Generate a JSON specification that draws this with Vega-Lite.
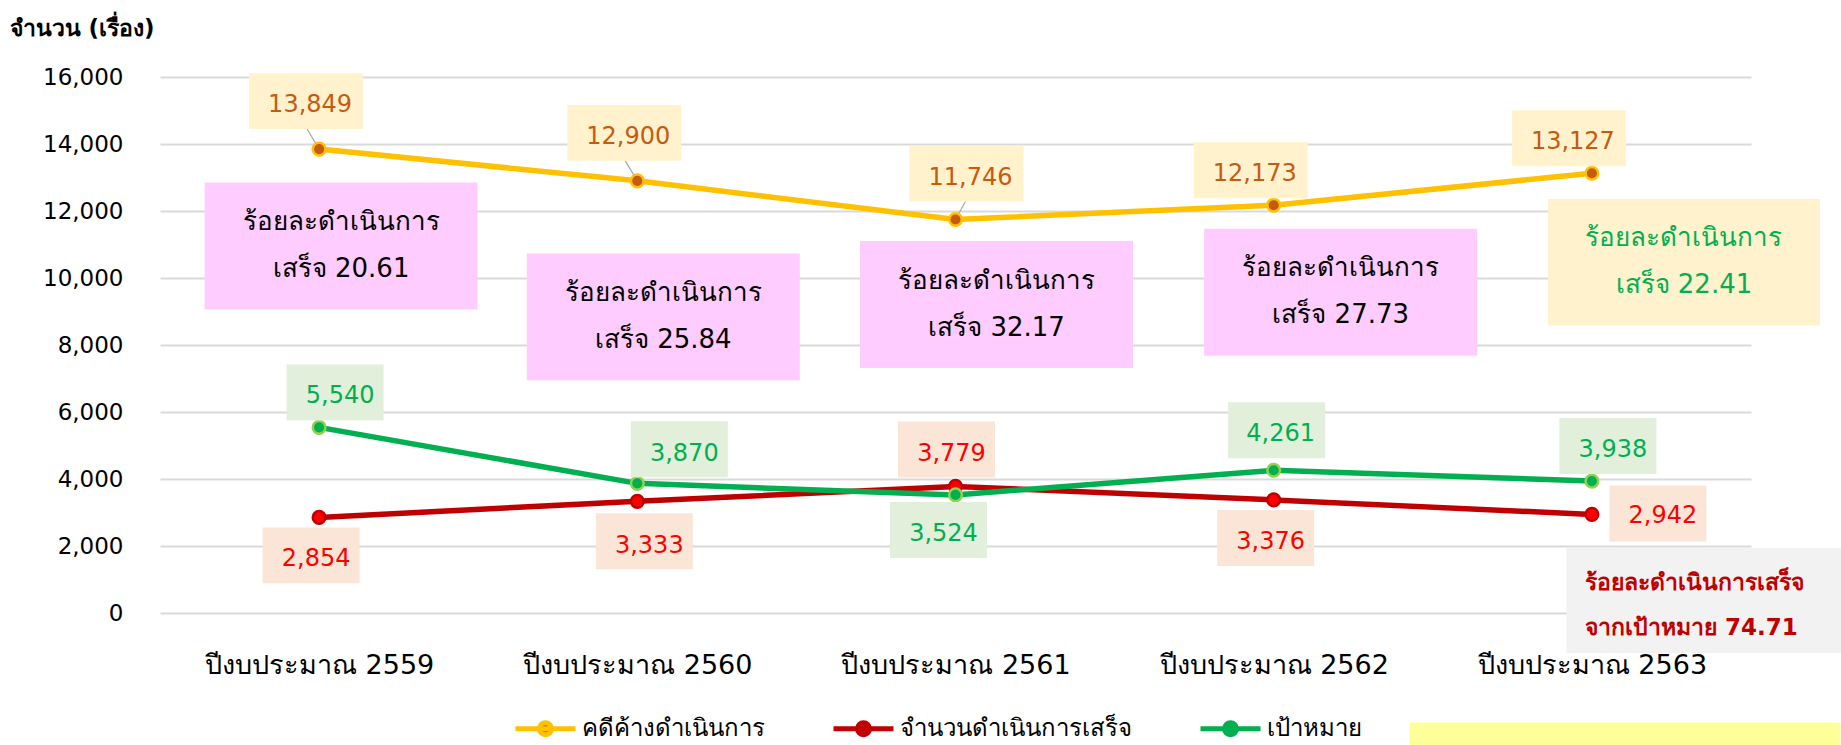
{
  "$schema": "https://vega.github.io/schema/vega-lite/v6.json",
  "width": 1591,
  "height": 536,
  "autosize": {"type": "none"},
  "padding": {"left": 160, "top": 77, "right": 90, "bottom": 132},
  "background": "#FFFFFF",
  "config": {"view": {"stroke": null}, "font": "DejaVu Sans"},
  "datasets": {
    "cases": [
      {"year": "ปีงบประมาณ 2559", "series": "คดีค้างดำเนินการ", "value": 13849},
      {"year": "ปีงบประมาณ 2560", "series": "คดีค้างดำเนินการ", "value": 12900},
      {"year": "ปีงบประมาณ 2561", "series": "คดีค้างดำเนินการ", "value": 11746},
      {"year": "ปีงบประมาณ 2562", "series": "คดีค้างดำเนินการ", "value": 12173},
      {"year": "ปีงบประมาณ 2563", "series": "คดีค้างดำเนินการ", "value": 13127},
      {"year": "ปีงบประมาณ 2559", "series": "จำนวนดำเนินการเสร็จ", "value": 2854},
      {"year": "ปีงบประมาณ 2560", "series": "จำนวนดำเนินการเสร็จ", "value": 3333},
      {"year": "ปีงบประมาณ 2561", "series": "จำนวนดำเนินการเสร็จ", "value": 3779},
      {"year": "ปีงบประมาณ 2562", "series": "จำนวนดำเนินการเสร็จ", "value": 3376},
      {"year": "ปีงบประมาณ 2563", "series": "จำนวนดำเนินการเสร็จ", "value": 2942},
      {"year": "ปีงบประมาณ 2559", "series": "เป้าหมาย", "value": 5540},
      {"year": "ปีงบประมาณ 2560", "series": "เป้าหมาย", "value": 3870},
      {"year": "ปีงบประมาณ 2561", "series": "เป้าหมาย", "value": 3524},
      {"year": "ปีงบประมาณ 2562", "series": "เป้าหมาย", "value": 4261},
      {"year": "ปีงบประมาณ 2563", "series": "เป้าหมาย", "value": 3938}
    ],
    "notes": [
      {"year": "ปีงบประมาณ 2559", "text": "ร้อยละดำเนินการ\nเสร็จ 20.61"},
      {"year": "ปีงบประมาณ 2560", "text": "ร้อยละดำเนินการ\nเสร็จ 25.84"},
      {"year": "ปีงบประมาณ 2561", "text": "ร้อยละดำเนินการ\nเสร็จ 32.17"},
      {"year": "ปีงบประมาณ 2562", "text": "ร้อยละดำเนินการ\nเสร็จ 27.73"},
      {"year": "ปีงบประมาณ 2563", "text": "ร้อยละดำเนินการ\nเสร็จ 22.41"}
    ],
    "summary": [
      {"year": "ปีงบประมาณ 2563", "text": "ร้อยละดำเนินการเสร็จ\nจากเป้าหมาย 74.71"}
    ]
  },
  "data": {"name": "cases"},
  "encoding": {
    "x": {
      "field": "year", "type": "nominal", "sort": null,
      "scale": {"type": "point", "padding": 0.5},
      "axis": {"title": null, "labelAngle": 0, "labelFontSize": 27, "labelColor": "#000000", "labelPadding": 52, "labelBaseline": "middle", "labelLimit": 0, "domain": false, "ticks": false, "tickSize": 0, "grid": false}
    },
    "y": {
      "field": "value", "type": "quantitative",
      "scale": {"domain": [0, 16000], "nice": false, "zero": true},
      "axis": {"title": "จำนวน (เรื่อง)", "titleAngle": 0, "titleX": -151, "titleY": -49, "titleAlign": "left", "titleBaseline": "middle", "titleFontSize": 23, "titleFontWeight": "bold", "titleColor": "#000000", "labelFontSize": 23, "labelColor": "#000000", "labelPadding": 37, "domain": false, "ticks": false, "tickSize": 0, "grid": true, "gridColor": "#D9D9D9", "gridWidth": 2, "values": [0, 2000, 4000, 6000, 8000, 10000, 12000, 14000, 16000], "labelExpr": "format(datum.value, ',')"}
    }
  },
  "layer": [
    {"mark": {"type": "line", "strokeWidth": 5.5},
     "encoding": {"color": {"field": "series", "type": "nominal",
       "scale": {"domain": ["คดีค้างดำเนินการ", "จำนวนดำเนินการเสร็จ", "เป้าหมาย"], "range": ["#FFC000", "#C00000", "#00B050"]},
       "legend": {"orient": "none", "legendX": 353, "legendY": 619, "direction": "horizontal", "title": null, "labelFontSize": 24, "labelColor": "#000000", "labelLimit": 0, "symbolType": "M-1,0H1M0.2,0A0.2,0.2,0,1,1,-0.2,0A0.2,0.2,0,1,1,0.2,0Z", "symbolSize": 3600, "symbolStrokeWidth": 5, "labelOffset": 4, "columnPadding": 58,
         "encode": {"symbols": {"update": {"fill": {"scale": "fill", "field": "value"}}}}}}}},
    {"transform": [{"filter": "datum.series == 'คดีค้างดำเนินการ'"}, {"lookup": "year", "from": {"data": {"name": "notes"}, "key": "year", "fields": ["text"]}}],
     "layer": [
      {"transform": [{"filter": "test(/2559/, datum.year)"}],
       "layer": [
        {"mark": {"type": "point", "shape": "M-1,-0.465H1V0.465H-1Z", "size": 74529, "filled": true, "fill": "#FFCCFF", "opacity": 1, "strokeWidth": 0, "xOffset": 22, "yOffset": 97}},
        {"mark": {"type": "text", "fontSize": 26, "lineBreak": "\n", "lineHeight": 47, "dx": 22, "dy": 73, "color": "#000000", "baseline": "middle"}, "encoding": {"text": {"field": "text"}}}
      ]},
      {"transform": [{"filter": "test(/2560/, datum.year)"}],
       "layer": [
        {"mark": {"type": "point", "shape": "M-1,-0.465H1V0.465H-1Z", "size": 74529, "filled": true, "fill": "#FFCCFF", "opacity": 1, "strokeWidth": 0, "xOffset": 26, "yOffset": 136}},
        {"mark": {"type": "text", "fontSize": 26, "lineBreak": "\n", "lineHeight": 47, "dx": 26, "dy": 112, "color": "#000000", "baseline": "middle"}, "encoding": {"text": {"field": "text"}}}
      ]},
      {"transform": [{"filter": "test(/2561/, datum.year)"}],
       "layer": [
        {"mark": {"type": "point", "shape": "M-1,-0.465H1V0.465H-1Z", "size": 74529, "filled": true, "fill": "#FFCCFF", "opacity": 1, "strokeWidth": 0, "xOffset": 41, "yOffset": 85}},
        {"mark": {"type": "text", "fontSize": 26, "lineBreak": "\n", "lineHeight": 47, "dx": 41, "dy": 61, "color": "#000000", "baseline": "middle"}, "encoding": {"text": {"field": "text"}}}
      ]},
      {"transform": [{"filter": "test(/2562/, datum.year)"}],
       "layer": [
        {"mark": {"type": "point", "shape": "M-1,-0.465H1V0.465H-1Z", "size": 74529, "filled": true, "fill": "#FFCCFF", "opacity": 1, "strokeWidth": 0, "xOffset": 67, "yOffset": 87}},
        {"mark": {"type": "text", "fontSize": 26, "lineBreak": "\n", "lineHeight": 47, "dx": 67, "dy": 63, "color": "#000000", "baseline": "middle"}, "encoding": {"text": {"field": "text"}}}
      ]},
      {"transform": [{"filter": "test(/2563/, datum.year)"}],
       "layer": [
        {"mark": {"type": "point", "shape": "M-1,-0.465H1V0.465H-1Z", "size": 73984, "filled": true, "fill": "#FFF2CC", "opacity": 1, "strokeWidth": 0, "xOffset": 92, "yOffset": 89}},
        {"mark": {"type": "text", "fontSize": 26, "lineBreak": "\n", "lineHeight": 47, "dx": 92, "dy": 65, "color": "#00B050", "baseline": "middle"}, "encoding": {"text": {"field": "text"}}}
      ]}
    ]},
    {"transform": [{"filter": "datum.series == 'จำนวนดำเนินการเสร็จ' && test(/2563/, datum.year)"}, {"lookup": "year", "from": {"data": {"name": "summary"}, "key": "year", "fields": ["text"]}}],
     "layer": [
      {"mark": {"type": "point", "shape": "M-1,-0.382H1V0.382H-1Z", "size": 75625, "filled": true, "fill": "#F2F2F2", "opacity": 1, "strokeWidth": 0, "xOffset": 112, "yOffset": 86}},
      {"mark": {"type": "point", "shape": "M-1,-0.139H1V0.139H-1Z", "size": 185761, "filled": true, "fill": "#FFFF99", "opacity": 1, "strokeWidth": 0, "xOffset": 33, "yOffset": 238}},
      {"mark": {"type": "text", "fontSize": 23, "fontWeight": "bold", "lineBreak": "\n", "lineHeight": 45, "dx": -7, "dy": 69, "align": "left", "color": "#C00000", "baseline": "middle"}, "encoding": {"text": {"field": "text"}}}
    ]},
    {"transform": [{"filter": "datum.series == 'คดีค้างดำเนินการ' && test(/2559|2560/, datum.year)"}],
     "mark": {"type": "rule", "color": "#A6A6A6", "strokeWidth": 1.2, "x2Offset": -12, "y2Offset": -20},
     "encoding": {"x2": {"field": "year"}, "y2": {"field": "value"}}},
    {"transform": [{"filter": "datum.series == 'คดีค้างดำเนินการ' && test(/2561/, datum.year)"}],
     "mark": {"type": "rule", "color": "#A6A6A6", "strokeWidth": 1.2, "x2Offset": 10, "y2Offset": -18},
     "encoding": {"x2": {"field": "year"}, "y2": {"field": "value"}}},
    {"mark": {"type": "point", "filled": true, "size": 160, "strokeWidth": 2.5, "opacity": 1},
     "encoding": {
       "fill": {"field": "series", "type": "nominal", "scale": {"domain": ["คดีค้างดำเนินการ", "จำนวนดำเนินการเสร็จ", "เป้าหมาย"], "range": ["#C55A11", "#FF0000", "#00B050"]}, "legend": null},
       "stroke": {"field": "series", "type": "nominal", "scale": {"domain": ["คดีค้างดำเนินการ", "จำนวนดำเนินการเสร็จ", "เป้าหมาย"], "range": ["#FFC000", "#C00000", "#92D050"]}, "legend": null}
     }},
    {"transform": [{"filter": "datum.series == 'คดีค้างดำเนินการ' && test(/2559|2560/, datum.year)"}],
     "layer": [
      {"mark": {"type": "point", "shape": "M-1,-0.49H1V0.49H-1Z", "size": 12996, "filled": true, "fill": "#FFF2CC", "opacity": 1, "strokeWidth": 0, "xOffset": -13, "yOffset": -48}},
      {"mark": {"type": "text", "fontSize": 24, "color": "#C55A11", "baseline": "middle", "dx": -9, "dy": -44}, "encoding": {"text": {"field": "value", "format": ","}}}
    ]},
    {"transform": [{"filter": "datum.series == 'คดีค้างดำเนินการ' && test(/2561/, datum.year)"}],
     "layer": [
      {"mark": {"type": "point", "shape": "M-1,-0.49H1V0.49H-1Z", "size": 12996, "filled": true, "fill": "#FFF2CC", "opacity": 1, "strokeWidth": 0, "xOffset": 11, "yOffset": -46}},
      {"mark": {"type": "text", "fontSize": 24, "color": "#C55A11", "baseline": "middle", "dx": 15, "dy": -42}, "encoding": {"text": {"field": "value", "format": ","}}}
    ]},
    {"transform": [{"filter": "datum.series == 'คดีค้างดำเนินการ' && test(/2562|2563/, datum.year)"}],
     "layer": [
      {"mark": {"type": "point", "shape": "M-1,-0.49H1V0.49H-1Z", "size": 12996, "filled": true, "fill": "#FFF2CC", "opacity": 1, "strokeWidth": 0, "xOffset": -23, "yOffset": -35}},
      {"mark": {"type": "text", "fontSize": 24, "color": "#C55A11", "baseline": "middle", "dx": -19, "dy": -31}, "encoding": {"text": {"field": "value", "format": ","}}}
    ]},
    {"transform": [{"filter": "datum.series == 'เป้าหมาย' && test(/2559|2563/, datum.year)"}],
     "layer": [
      {"mark": {"type": "point", "shape": "M-1,-0.577H1V0.577H-1Z", "size": 9409, "filled": true, "fill": "#E2EFDA", "opacity": 1, "strokeWidth": 0, "xOffset": 16, "yOffset": -35}},
      {"mark": {"type": "text", "fontSize": 24, "color": "#00B050", "baseline": "middle", "dx": 21, "dy": -31}, "encoding": {"text": {"field": "value", "format": ","}}}
    ]},
    {"transform": [{"filter": "datum.series == 'เป้าหมาย' && test(/2560/, datum.year)"}],
     "layer": [
      {"mark": {"type": "point", "shape": "M-1,-0.577H1V0.577H-1Z", "size": 9409, "filled": true, "fill": "#E2EFDA", "opacity": 1, "strokeWidth": 0, "xOffset": 42, "yOffset": -34}},
      {"mark": {"type": "text", "fontSize": 24, "color": "#00B050", "baseline": "middle", "dx": 47, "dy": -29}, "encoding": {"text": {"field": "value", "format": ","}}}
    ]},
    {"transform": [{"filter": "datum.series == 'เป้าหมาย' && test(/2562/, datum.year)"}],
     "layer": [
      {"mark": {"type": "point", "shape": "M-1,-0.577H1V0.577H-1Z", "size": 9409, "filled": true, "fill": "#E2EFDA", "opacity": 1, "strokeWidth": 0, "xOffset": 3, "yOffset": -40}},
      {"mark": {"type": "text", "fontSize": 24, "color": "#00B050", "baseline": "middle", "dx": 7, "dy": -36}, "encoding": {"text": {"field": "value", "format": ","}}}
    ]},
    {"transform": [{"filter": "datum.series == 'เป้าหมาย' && test(/2561/, datum.year)"}],
     "layer": [
      {"mark": {"type": "point", "shape": "M-1,-0.577H1V0.577H-1Z", "size": 9409, "filled": true, "fill": "#E2EFDA", "opacity": 1, "strokeWidth": 0, "xOffset": -17, "yOffset": 35}},
      {"mark": {"type": "text", "fontSize": 24, "color": "#00B050", "baseline": "middle", "dx": -12, "dy": 39}, "encoding": {"text": {"field": "value", "format": ","}}}
    ]},
    {"transform": [{"filter": "datum.series == 'จำนวนดำเนินการเสร็จ' && test(/2559|2562/, datum.year)"}],
     "layer": [
      {"mark": {"type": "point", "shape": "M-1,-0.577H1V0.577H-1Z", "size": 9409, "filled": true, "fill": "#FBE5D6", "opacity": 1, "strokeWidth": 0, "xOffset": -8, "yOffset": 38}},
      {"mark": {"type": "text", "fontSize": 24, "color": "#FF0000", "baseline": "middle", "dx": -3, "dy": 42}, "encoding": {"text": {"field": "value", "format": ","}}}
    ]},
    {"transform": [{"filter": "datum.series == 'จำนวนดำเนินการเสร็จ' && test(/2560/, datum.year)"}],
     "layer": [
      {"mark": {"type": "point", "shape": "M-1,-0.577H1V0.577H-1Z", "size": 9409, "filled": true, "fill": "#FBE5D6", "opacity": 1, "strokeWidth": 0, "xOffset": 7, "yOffset": 40}},
      {"mark": {"type": "text", "fontSize": 24, "color": "#FF0000", "baseline": "middle", "dx": 12, "dy": 45}, "encoding": {"text": {"field": "value", "format": ","}}}
    ]},
    {"transform": [{"filter": "datum.series == 'จำนวนดำเนินการเสร็จ' && test(/2561/, datum.year)"}],
     "layer": [
      {"mark": {"type": "point", "shape": "M-1,-0.577H1V0.577H-1Z", "size": 9409, "filled": true, "fill": "#FBE5D6", "opacity": 1, "strokeWidth": 0, "xOffset": -9, "yOffset": -37}},
      {"mark": {"type": "text", "fontSize": 24, "color": "#FF0000", "baseline": "middle", "dx": -4, "dy": -32}, "encoding": {"text": {"field": "value", "format": ","}}}
    ]},
    {"transform": [{"filter": "datum.series == 'จำนวนดำเนินการเสร็จ' && test(/2563/, datum.year)"}],
     "layer": [
      {"mark": {"type": "point", "shape": "M-1,-0.577H1V0.577H-1Z", "size": 9409, "filled": true, "fill": "#FBE5D6", "opacity": 1, "strokeWidth": 0, "xOffset": 66, "yOffset": -1}},
      {"mark": {"type": "text", "fontSize": 24, "color": "#FF0000", "baseline": "middle", "dx": 71, "dy": 2}, "encoding": {"text": {"field": "value", "format": ","}}}
    ]}
  ]
}
